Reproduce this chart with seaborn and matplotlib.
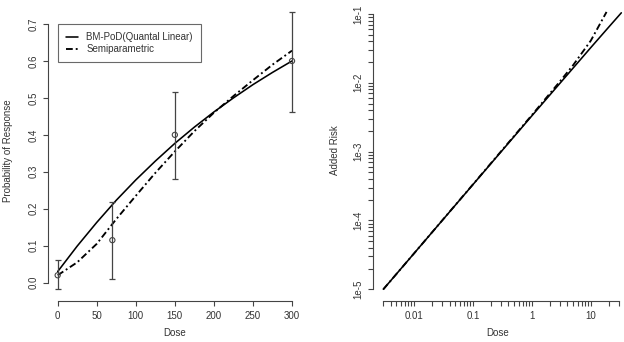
import numpy as np
import pandas as pd
import matplotlib
matplotlib.use("Agg")
import matplotlib.pyplot as plt
import seaborn as sns
from matplotlib.lines import Line2D

# ---------------- data ----------------
obs_dose = [0, 70, 150, 300]
obs_prob = [0.02, 0.115, 0.40, 0.60]
obs_low = [-0.018, 0.01, 0.28, 0.463]
obs_high = [0.06, 0.219, 0.517, 0.733]

curve_dose = [0, 25, 50, 75, 100, 125, 150, 175, 200, 225, 250, 275, 300]
bmpod_prob = [0.030, 0.099, 0.163, 0.223, 0.278, 0.329, 0.377, 0.421, 0.462, 0.500, 0.536, 0.569, 0.600]
semi_prob = [0.020, 0.055, 0.105, 0.172, 0.235, 0.297, 0.355, 0.410, 0.460, 0.505, 0.548, 0.590, 0.628]

risk_dose_bmpod = [0.003, 0.01, 0.1, 1, 10, 20, 33]
risk_bmpod = [1.0e-5, 3.33e-5, 3.33e-4, 3.32e-3, 0.0325, 0.064, 0.104]
risk_dose_semi = [0.003, 0.01, 0.1, 1, 3, 5, 10, 18.5]
risk_semi = [1.0e-5, 3.33e-5, 3.35e-4, 3.4e-3, 0.0105, 0.018, 0.041, 0.107]

left_xticks = [0, 50, 100, 150, 200, 250, 300]
left_yticks = [0.0, 0.1, 0.2, 0.3, 0.4, 0.5, 0.6, 0.7]
left_yticklabels = ["0.0", "0.1", "0.2", "0.3", "0.4", "0.5", "0.6", "0.7"]
right_xlabel_vals = [0.01, 0.1, 1, 10]
right_xlabels = ["0.01", "0.1", "1", "10"]
right_ylabel_vals = [1e-5, 1e-4, 1e-3, 1e-2, 1e-1]
right_ylabels = ["1e-5", "1e-4", "1e-3", "1e-2", "1e-1"]

legend_labels = ["BM-PoD(Quantal Linear)", "Semiparametric"]

# ---------------- style ----------------
sns.set_style("ticks")
plt.rcParams["font.family"] = ["Liberation Sans", "DejaVu Sans"]
FS = 7.0
TXT = "#333333"
AXC = "#444444"
plt.rcParams.update({
    "font.size": FS,
    "axes.edgecolor": AXC,
    "xtick.color": AXC,
    "ytick.color": AXC,
    "xtick.labelcolor": TXT,
    "ytick.labelcolor": TXT,
    "axes.labelcolor": TXT,
    "text.color": TXT,
})

W, H = 624, 342
fig = plt.figure(figsize=(W / 100, H / 100), dpi=100)

# left axes : pixel box x 48.3..301.4, y 0..301.2
axL = fig.add_axes([48.3 / W, (H - 301.2) / H, 253.1 / W, 301.2 / H])
# right axes : pixel box x 373.3..628.5
axR = fig.add_axes([373.3 / W, (H - 301.2) / H, 255.2 / W, 301.2 / H])

DASH = (3.6, 1.6, 1.0, 1.6)

# ---------------- left panel ----------------
df_curves = pd.DataFrame({"dose": curve_dose, "bmpod": bmpod_prob, "semi": semi_prob})
sns.lineplot(data=df_curves, x="dose", y="bmpod", ax=axL, color="black", lw=1.15)
sns.lineplot(data=df_curves, x="dose", y="semi", ax=axL, color="black", lw=1.35)
axL.lines[-1].set_dashes(DASH)

yerr = [np.array(obs_prob) - np.array(obs_low), np.array(obs_high) - np.array(obs_prob)]
axL.errorbar(obs_dose, obs_prob, yerr=yerr, fmt="none", ecolor=AXC, elinewidth=0.9,
             capsize=2.4, capthick=0.9)
sns.scatterplot(x=obs_dose, y=obs_prob, ax=axL, marker="o", s=14, facecolor="none",
                edgecolor=AXC, linewidth=0.8, zorder=5)

axL.set_xlim(-12, 312)
axL.set_ylim(-0.0502, 0.765)
axL.set_xticks(left_xticks)
axL.set_xticklabels([str(v) for v in left_xticks])
axL.set_yticks(left_yticks)
axL.set_yticklabels(left_yticklabels, rotation=90, va="center")
axL.spines["bottom"].set_bounds(0, 300)
axL.spines["left"].set_bounds(0, 0.7)
axL.set_xlabel("Dose")
axL.set_ylabel("Probability of Response")

handles = [Line2D([], [], color="black", lw=1.15),
           Line2D([], [], color="black", lw=1.35, dashes=DASH)]
leg = axL.legend(handles, legend_labels, loc="upper left", bbox_to_anchor=(0, 0.7),
                 bbox_transform=axL.transData, borderaxespad=0, frameon=True,
                 fancybox=False, fontsize=FS, handlelength=1.25, handletextpad=0.85,
                 borderpad=0.85, labelspacing=0.2)
leg.get_frame().set_edgecolor(AXC)
leg.get_frame().set_linewidth(0.8)
leg.get_frame().set_facecolor("white")

# ---------------- right panel ----------------
sns.lineplot(x=risk_dose_bmpod, y=risk_bmpod, ax=axR, color="black", lw=1.15)
sns.lineplot(x=risk_dose_semi, y=risk_semi, ax=axR, color="black", lw=1.35)
axR.lines[-1].set_dashes(DASH)
axR.set_xscale("log")
axR.set_yscale("log")
axR.set_xlim(10 ** -2.693, 10 ** 1.640)
axR.set_ylim(10 ** -5.173, 10 ** -0.797)

xt_all = [k * 10.0 ** n for n in range(-3, 2) for k in range(1, 10)
          if 0.003 - 1e-12 <= k * 10.0 ** n <= 30 + 1e-9]
axR.xaxis.set_major_locator(matplotlib.ticker.FixedLocator(right_xlabel_vals))
axR.set_xticklabels(right_xlabels)
axR.xaxis.set_minor_locator(matplotlib.ticker.FixedLocator(
    [v for v in xt_all if not any(abs(v - m) / m < 1e-6 for m in right_xlabel_vals)]))
yt_all = [k * 10.0 ** n for n in range(-5, 0) for k in range(1, 10)
          if 1e-5 * 0.999 <= k * 10.0 ** n <= 0.1 * 1.001]
axR.yaxis.set_major_locator(matplotlib.ticker.FixedLocator(right_ylabel_vals))
axR.set_yticklabels(right_ylabels, rotation=90, va="center")
axR.yaxis.set_minor_locator(matplotlib.ticker.FixedLocator(
    [v for v in yt_all if not any(abs(v - m) / m < 1e-6 for m in right_ylabel_vals)]))
axR.xaxis.set_minor_formatter(matplotlib.ticker.NullFormatter())
axR.yaxis.set_minor_formatter(matplotlib.ticker.NullFormatter())
axR.spines["bottom"].set_bounds(0.003, 30)
axR.spines["left"].set_bounds(1e-5, 1e-1)
axR.set_xlabel("Dose")
axR.set_ylabel("Added Risk")

for ax in (axL, axR):
    sns.despine(ax=ax)
    ax.tick_params(which="both", length=3.6, width=0.8, direction="out", pad=3.5,
                   labelsize=FS)
    ax.xaxis.label.set_size(FS)
    ax.yaxis.label.set_size(FS)
    ax.xaxis.label.set_va("center")
    ax.yaxis.label.set_va("center")
    ax.patch.set_alpha(0)

axL.xaxis.set_label_coords(0.5, (301.2 - 333) / 301.2)
axL.yaxis.set_label_coords((8 - 48.3) / 253.1, 0.5)
axR.xaxis.set_label_coords((498 - 373.3) / 255.2, (301.2 - 333) / 301.2)
axR.yaxis.set_label_coords((335 - 373.3) / 255.2, 0.5)

fig.savefig("out.png", dpi=100)
